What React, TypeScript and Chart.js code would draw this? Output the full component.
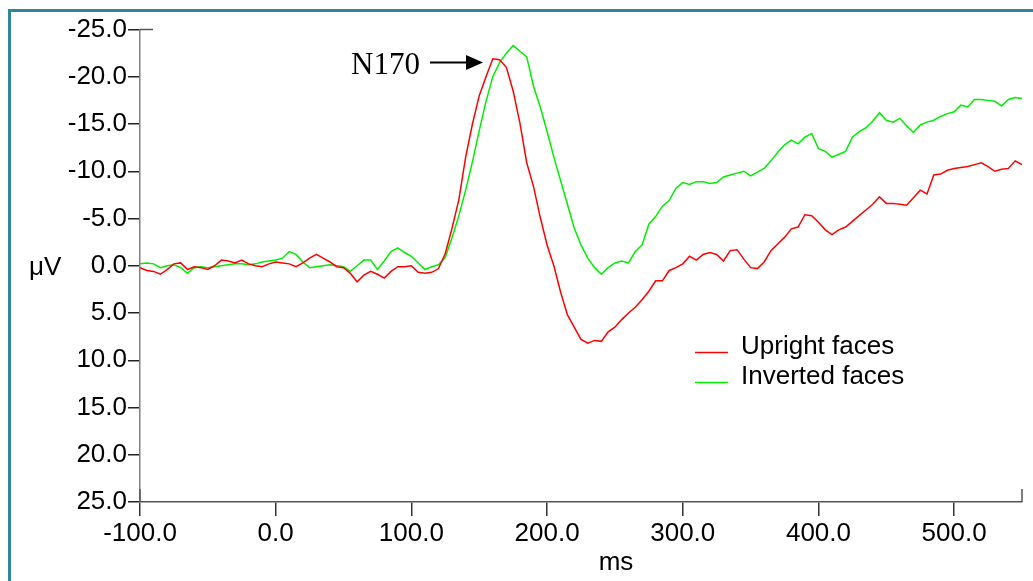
import React, { useEffect, useRef } from "react";
import { Chart, registerables } from "chart.js";

Chart.register(...registerables);

const times = [
  -100, -95, -90, -85, -80, -75, -70, -65, -60, -55, -50, -45, -40, -35, -30, -25, -20, -15, -10, -5,
  0, 5, 10, 15, 20, 25, 30, 35, 40, 45, 50, 55, 60, 65, 70, 75, 80, 85, 90, 95,
  100, 105, 110, 115, 120, 125, 130, 135, 140, 145, 150, 155, 160, 165, 170, 175, 180, 185, 190, 195,
  200, 205, 210, 215, 220, 225, 230, 235, 240, 245, 250, 255, 260, 265, 270, 275, 280, 285, 290, 295,
  300, 305, 310, 315, 320, 325, 330, 335, 340, 345, 350, 355, 360, 365, 370, 375, 380, 385, 390, 395,
  400, 405, 410, 415, 420, 425, 430, 435, 440, 445, 450, 455, 460, 465, 470, 475, 480, 485, 490, 495,
  500, 505, 510, 515, 520, 525, 530, 535, 540, 545, 550,
];

const uprightFaces = [
  0.2, 0.5, 0.6, 0.9, 0.4, -0.2, -0.3, 0.4, 0.1, 0.2, 0.4, 0.0, -0.6, -0.5, -0.3, -0.6, -0.2, 0.0, 0.1, -0.2,
  -0.4, -0.3, -0.2, 0.1, -0.3, -0.8, -1.2, -0.8, -0.4, 0.1, 0.2, 0.8, 1.7, 1.0, 0.6, 0.9, 1.3, 0.6, 0.1, 0.1,
  0.0, 0.7, 0.8, 0.7, 0.3, -1.3, -4.0, -7.0, -11.5, -15.0, -18.0, -20.0, -21.9, -21.8, -21.0, -18.5, -15.1, -10.9, -8.4, -5.1,
  -2.2, 0.0, 2.8, 5.2, 6.5, 7.8, 8.2, 7.9, 8.0, 7.0, 6.5, 5.7, 5.0, 4.4, 3.6, 2.7, 1.6, 1.6, 0.5, 0.2,
  -0.2, -1.0, -0.6, -1.2, -1.4, -1.2, -0.5, -1.6, -1.7, -0.7, 0.2, 0.3, -0.4, -1.6, -2.3, -3.0, -3.9, -4.1, -5.4, -5.3,
  -4.6, -3.8, -3.3, -3.8, -4.1, -4.7, -5.3, -5.9, -6.5, -7.3, -6.6, -6.6, -6.5, -6.4, -7.2, -8.0, -7.6, -9.6, -9.7, -10.1,
  -10.3, -10.4, -10.5, -10.7, -10.9, -10.5, -10.0, -10.2, -10.3, -11.1, -10.7,
];

const invertedFaces = [
  -0.2, -0.3, -0.2, 0.2, 0.0, -0.1, 0.2, 0.8, 0.2, 0.1, 0.2, 0.1, 0.0, -0.1, -0.2, -0.2, -0.1, -0.2, -0.4, -0.5,
  -0.6, -0.8, -1.5, -1.2, -0.4, 0.2, 0.1, 0.0, -0.1, 0.0, 0.1, 0.6, 0.0, -0.6, -0.6, 0.4, -0.5, -1.5, -1.9, -1.4,
  -1.0, -0.3, 0.4, 0.1, -0.1, -0.9, -3.0, -5.3, -8.0, -11.0, -14.3, -17.4, -20.0, -21.5, -22.5, -23.3, -22.7, -22.1, -19.0, -16.8,
  -14.2, -11.5, -9.0, -6.5, -4.0, -2.2, -0.8, 0.2, 0.9, 0.2, -0.3, -0.5, -0.3, -1.5, -2.2, -4.4, -5.2, -6.3, -6.9, -8.2,
  -8.8, -8.6, -8.9, -8.9, -8.7, -8.8, -9.4, -9.6, -9.8, -10.0, -9.5, -9.9, -10.3, -11.1, -12.0, -12.8, -13.3, -12.9, -13.6, -14.0,
  -12.4, -12.1, -11.5, -11.8, -12.1, -13.6, -14.2, -14.6, -15.3, -16.2, -15.4, -15.2, -15.6, -14.8, -14.1, -14.9, -15.2, -15.4, -15.8, -16.1,
  -16.3, -17.0, -16.8, -17.6, -17.6, -17.5, -17.4, -16.9, -17.6, -17.8, -17.7,
];

const seriesLabels = ["Upright faces", "Inverted faces"];
const seriesColors = ["#ff0000", "#00ee00"];
const xTickValues = [-100, 0, 100, 200, 300, 400, 500];
const xTitle = "ms";
const yTitle = "μV";
const peakLabel = "N170";

const SANS = "'Liberation Sans', Arial, sans-serif";
const SERIF = "'Liberation Serif', 'Times New Roman', serif";

const overlayPlugin = {
  id: "overlay",
  afterDraw(chart: any) {
    const { ctx, chartArea, scales } = chart;
    const xs = scales.x;
    const ys = scales.y;
    ctx.save();
    // end ticks
    ctx.strokeStyle = "#555";
    ctx.lineWidth = 1.5;
    ctx.beginPath();
    const yTop = ys.getPixelForValue(-25);
    ctx.moveTo(chartArea.left, yTop);
    ctx.lineTo(chartArea.left + 13, yTop);
    const xLeft = xs.getPixelForValue(-100);
    const xRight = xs.getPixelForValue(550);
    const yBot = ys.getPixelForValue(25);
    ctx.moveTo(xLeft, yBot);
    ctx.lineTo(xLeft, yBot - 13);
    ctx.moveTo(xRight, yBot);
    ctx.lineTo(xRight, yBot - 13);
    ctx.stroke();

    // axis titles
    ctx.fillStyle = "#000";
    ctx.font = `26px ${SANS}`;
    ctx.textBaseline = "middle";
    ctx.textAlign = "left";
    ctx.fillText(yTitle, 29, 268);
    ctx.textAlign = "center";
    ctx.fillText(xTitle, 616, 563);

    // N170 annotation
    ctx.font = `31px ${SERIF}`;
    ctx.textAlign = "left";
    ctx.textBaseline = "alphabetic";
    ctx.fillText(peakLabel, 351, 74);
    ctx.strokeStyle = "#000";
    ctx.lineWidth = 2;
    ctx.beginPath();
    ctx.moveTo(430, 62.5);
    ctx.lineTo(468, 62.5);
    ctx.stroke();
    ctx.beginPath();
    ctx.moveTo(483, 62.5);
    ctx.lineTo(466, 55);
    ctx.lineTo(466, 70);
    ctx.closePath();
    ctx.fill();

    // legend
    ctx.font = `26px ${SANS}`;
    ctx.textBaseline = "alphabetic";
    seriesLabels.forEach((lab, i) => {
      const yy = 352.5 + i * 30;
      ctx.strokeStyle = seriesColors[i];
      ctx.lineWidth = 1.5;
      ctx.beginPath();
      ctx.moveTo(695, yy);
      ctx.lineTo(728, yy);
      ctx.stroke();
      ctx.fillStyle = "#000";
      ctx.fillText(lab, 741, yy + 1);
    });
    ctx.restore();
  },
};

export default function App() {
  const ref = useRef<HTMLCanvasElement | null>(null);

  useEffect(() => {
    if (!ref.current) return;
    const chart = new Chart(ref.current, {
      type: "line",
      data: {
        datasets: [
          {
            label: seriesLabels[0],
            data: times.map((t, i) => ({ x: t, y: uprightFaces[i] })),
            borderColor: seriesColors[0],
            borderWidth: 1.5,
            pointRadius: 0,
            tension: 0,
          },
          {
            label: seriesLabels[1],
            data: times.map((t, i) => ({ x: t, y: invertedFaces[i] })),
            borderColor: seriesColors[1],
            borderWidth: 1.5,
            pointRadius: 0,
            tension: 0,
          },
        ],
      },
      options: {
        animation: false,
        responsive: false,
        maintainAspectRatio: false,
        devicePixelRatio: 1,
        layout: { padding: { top: 29.5, right: 11, left: 0, bottom: 0 } },
        plugins: { legend: { display: false }, tooltip: { enabled: false } },
        scales: {
          x: {
            type: "linear",
            min: -100,
            max: 550,
            afterBuildTicks: (axis: any) => {
              axis.ticks = xTickValues.map((v) => ({ value: v }));
            },
            afterFit: (axis: any) => {
              axis.height = 79;
            },
            ticks: {
              color: "#000",
              font: { family: SANS, size: 26 },
              padding: 2,
              maxRotation: 0,
              autoSkip: false,
              callback: (v: any) => Number(v).toFixed(1),
            },
            grid: { drawOnChartArea: false, drawTicks: true, tickLength: 14, color: "#333", lineWidth: 1.5 },
            border: { display: true, color: "#555", width: 1.5 },
          },
          y: {
            type: "linear",
            min: -25,
            max: 25,
            reverse: true,
            afterFit: (axis: any) => {
              axis.width = 140;
            },
            ticks: {
              stepSize: 5,
              color: "#000",
              font: { family: SANS, size: 26 },
              padding: 1,
              callback: (v: any) => Number(v).toFixed(1),
            },
            grid: { drawOnChartArea: false, drawTicks: true, tickLength: 12, color: "#222", lineWidth: 1.5 },
            border: { display: true, color: "#808080", width: 1.5 },
          },
        },
      },
      plugins: [overlayPlugin],
    });
    return () => chart.destroy();
  }, []);

  return (
    <div style={{ position: "absolute", left: 0, top: 0, width: 1033, height: 581, overflow: "hidden", background: "#fff" }}>
      <div
        style={{
          position: "absolute",
          left: 8,
          top: 9,
          width: 2000,
          height: 2000,
          border: "3px solid #30879a",
          boxSizing: "border-box",
        }}
      />
      <canvas ref={ref} width={1033} height={581} style={{ position: "absolute", left: 0, top: 0, width: 1033, height: 581 }} />
    </div>
  );
}
